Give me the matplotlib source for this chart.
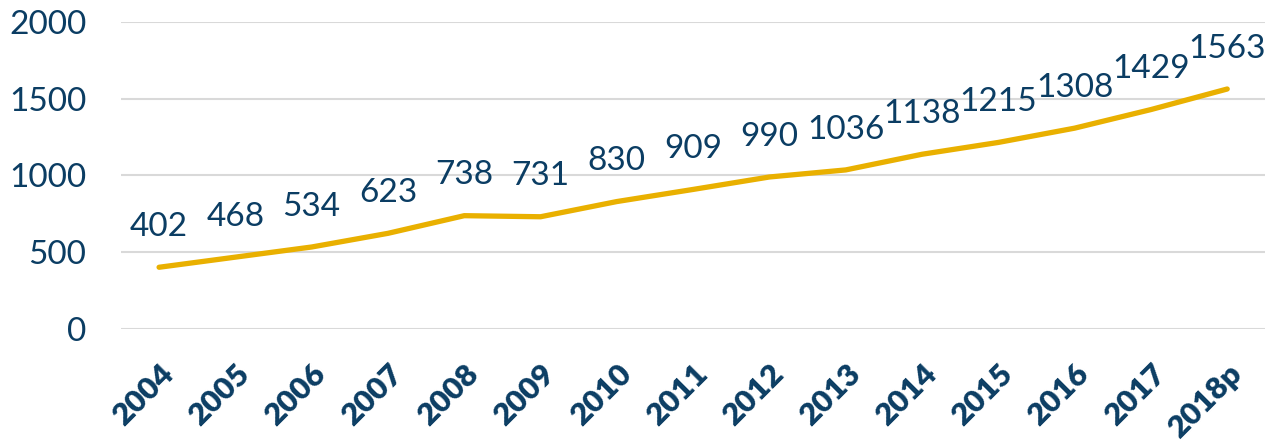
import matplotlib
matplotlib.use("Agg")
import matplotlib.pyplot as plt

plt.rcParams['font.family'] = ['Lato', 'DejaVu Sans']

years = ['2004', '2005', '2006', '2007', '2008', '2009', '2010', '2011',
         '2012', '2013', '2014', '2015', '2016', '2017', '2018p']
values = [402, 468, 534, 623, 738, 731, 830, 909, 990, 1036, 1138, 1215, 1308, 1429, 1563]

NAVY = '#0b3d63'
GOLD = '#e9b000'

fig = plt.figure(figsize=(12.73, 4.47), dpi=100)
ax = fig.add_axes([0.095, 0.264, 0.899, 0.687])

x = list(range(len(years)))
ax.plot(x, values, color=GOLD, linewidth=3.8, solid_capstyle='round')

for xi, v in zip(x, values):
    ax.annotate(str(v), (xi, v), xytext=(0, 29), textcoords='offset points',
                ha='center', va='center', fontsize=24, color=NAVY)

ax.set_xlim(-0.5, len(years) - 0.5)
ax.set_ylim(0, 2000)
ax.set_yticks([0, 500, 1000, 1500, 2000])
ax.set_xticks(x)
ax.set_xticklabels(years, rotation=45, ha='right', rotation_mode='anchor',
                   fontsize=22.5, fontweight='heavy', color=NAVY)
ax.tick_params(axis='y', labelsize=24, labelcolor=NAVY, length=0, pad=25)
ax.tick_params(axis='x', length=0, pad=22)
ax.grid(axis='y', color='#d9d9d9', linewidth=1.5)
ax.set_axisbelow(True)
for s in ax.spines.values():
    s.set_visible(False)

fig.savefig('out.png', dpi=100)
